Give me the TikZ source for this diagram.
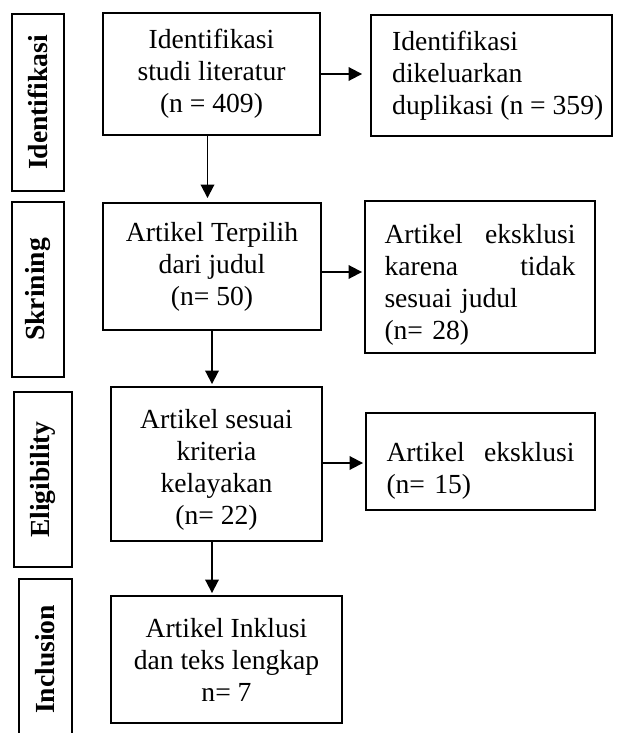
\documentclass[tikz,border=0pt]{standalone}
\usepackage{fontspec}
\setmainfont{Liberation Serif}
\usetikzlibrary{arrows.meta}
\begin{document}
\begin{tikzpicture}[x=1pt,y=-1pt,
  box/.style={draw, line width=1.9pt, inner sep=0pt, font=\fontsize{27.6}{32}\selectfont},
  boxtext/.style={inner sep=0pt, font=\fontsize{27.6}{32}\selectfont},
  side/.style={draw, line width=1.9pt, rotate=90, inner sep=0pt, font=\fontsize{27.6}{32}\selectfont\bfseries},
  arr/.style={line width=1.9pt, -{Triangle[length=13.5pt,width=13.5pt]}}]
\useasboundingbox (0,0) rectangle (616,733);
\clip (0,0) rectangle (616,733);
% side labels
\node[side, minimum width=177pt, minimum height=52pt] (S1) at (38,102.5) {Identifikasi};
\node[side, minimum width=175pt, minimum height=52pt] (S2) at (38,289.5) {Skrining};
\node[side, minimum width=175pt, minimum height=58pt] (S3) at (43,479.5) {Eligibility};
\node[side, minimum width=161pt, minimum height=53pt] (S4) at (45.5,659.5) {Inclusion};
% main column
\node[box, minimum width=217pt, minimum height=122pt, align=center] (B1) at (211.5,74) {Identifikasi\\studi literatur\\(n = 409)};
\node[box, minimum width=218pt, minimum height=127pt, align=center] (B2) at (212,266.5) {Artikel Terpilih\\dari judul\\(n= 50)};
\node[box, minimum width=211pt, minimum height=154pt] (B3) at (216.5,464) {};
\node[boxtext, align=center] (B3t) at (216.5,470) {Artikel sesuai\\kriteria\\kelayakan\\(n= 22)};
\node[box, minimum width=231pt, minimum height=127pt, align=center] (B4) at (226.5,659.5) {Artikel Inklusi\\dan teks lengkap\\n= 7};
% right column
\node[box, minimum width=241pt, minimum height=121pt] (R1) at (491.5,75.5) {};
\node[boxtext, align=left, anchor=west] (R1t) at (392,76) {Identifikasi\\dikeluarkan\\duplikasi (n = 359)};
\node[box, minimum width=230pt, minimum height=152pt] (R2) at (480,277) {};
\node[boxtext, text width=191pt, align=left] (R2t) at (480,285) {Artikel\hfill eksklusi\\karena\hfill tidak\\sesuai judul\\(n= 28)};
\node[box, minimum width=229pt, minimum height=97pt] (R3) at (480.5,461.5) {};
\node[boxtext, text width=188pt, align=left] (R3t) at (480.5,470.5) {Artikel\hfill eksklusi\\(n= 15)};
% arrows
\draw[arr, shorten >=8pt] (B1.east) -- (B1.east -| R1.west);
\draw[arr, shorten >=2pt] ([yshift=-5.5pt]B2.east) -- ([yshift=-5.5pt]B2.east -| R2.west);
\draw[arr, shorten >=2pt] ([yshift=1pt]B3.east) -- ([yshift=1pt]B3.east -| R3.west);
\draw[arr, shorten >=4pt] ([xshift=-4pt]B1.south) -- ([xshift=-4pt]B1.south |- B2.north);
\draw[arr, shorten >=2pt] (B2.south) -- (B2.south |- B3.north);
\draw[arr, shorten >=2pt] ([xshift=-4.5pt]B3.south) -- ([xshift=-4.5pt]B3.south |- B4.north);
\end{tikzpicture}
\end{document}
